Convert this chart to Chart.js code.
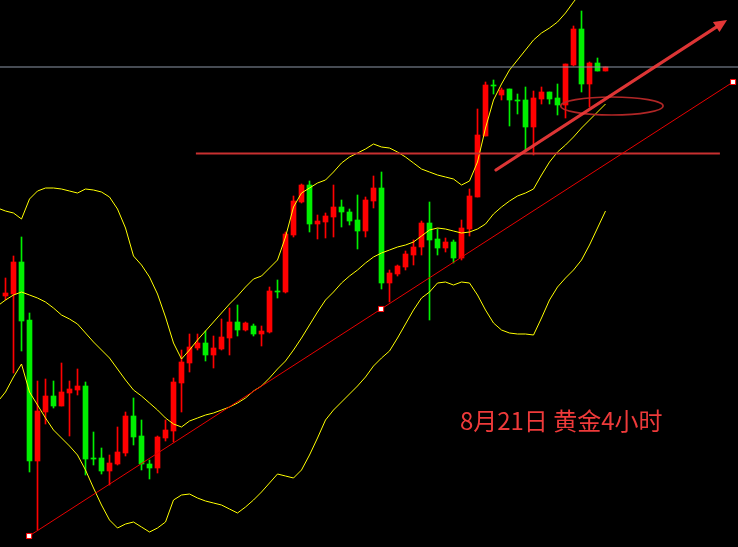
<!DOCTYPE html>
<html><head><meta charset="utf-8">
<script src="https://cdn.jsdelivr.net/npm/chart.js@4/dist/chart.umd.min.js"></script>
<style>html,body{margin:0;padding:0;background:#000;}#wrap{width:738px;height:547px;position:relative;background:#000;}</style>
</head><body><div id="wrap"><canvas id="c"></canvas></div>
<script>
// Candle index (4-hour bars)
const bars = [0,1,2,3,4,5,6,7,8,9,10,11,12,13,14,15,16,17,18,19,20,21,22,23,24,25,26,27,28,29,30,31,32,33,34,35,36,37,38,39,40,41,42,43,44,45,46,47,48,49,50,51,52,53,54,55,56,57,58,59,60,61,62,63,64,65,66,67,68,69,70,71,72,73,74,75];
const open  = [1500.8,1501.2,1507.6,1496.0,1467.8,1477.6,1480.8,1478.8,1481.4,1482.0,
  1482.8,1468.4,1468.4,1465.8,1467.2,1469.4,1476.8,1472.8,1467.2,1466.4,
  1472.4,1473.8,1483.4,1487.4,1490.4,1491.4,1489.0,1490.2,1492.4,1495.6,
  1494.0,1494.8,1493.2,1493.6,1501.8,1501.6,1513.0,1519.6,1523.0,1515.2,
  1515.6,1516.6,1518.6,1517.6,1516.0,1513.8,1519.8,1522.4,1503.4,1505.2,
  1506.6,1509.0,1510.6,1515.4,1512.2,1510.4,1511.6,1508.4,1514.2,1520.6,
  1532.8,1543.0,1541.0,1542.2,1540.0,1540.0,1534.6,1540.2,1541.6,1540.4,
  1539.0,1547.0,1554.2,1543.2,1547.4,1545.8];
const high  = [1504.4,1508.8,1512.6,1497.4,1483.8,1484.2,1483.8,1487.4,1483.8,1486.2,
  1483.6,1473.6,1470.4,1469.0,1474.6,1477.6,1480.4,1476.0,1468.0,1472.8,
  1476.0,1484.4,1490.0,1493.2,1493.2,1493.8,1492.8,1496.2,1498.4,1499.0,
  1495.6,1495.2,1494.8,1502.6,1504.0,1513.6,1520.8,1523.2,1523.8,1517.0,
  1517.4,1523.0,1520.0,1518.2,1521.0,1520.6,1524.8,1525.6,1506.0,1507.0,
  1509.8,1512.0,1515.8,1519.6,1514.2,1512.4,1512.0,1516.0,1522.2,1538.2,
  1543.6,1544.0,1542.4,1542.2,1541.2,1542.6,1541.8,1542.6,1541.6,1543.2,
  1547.2,1554.8,1557.8,1547.6,1548.4,1546.6];
const low   = [1500.0,1485.4,1489.8,1465.6,1454.0,1475.2,1478.4,1478.8,1472.8,1481.0,
  1465.0,1467.0,1465.2,1463.0,1467.0,1468.8,1471.0,1466.0,1464.2,1465.4,
  1471.8,1471.6,1477.6,1485.6,1490.0,1487.8,1486.4,1490.0,1489.0,1492.8,
  1493.8,1492.8,1490.8,1493.4,1500.4,1501.4,1512.6,1519.4,1513.6,1512.2,
  1512.4,1512.6,1514.6,1515.0,1510.2,1512.6,1518.4,1502.2,1499.6,1504.8,
  1506.0,1507.0,1509.0,1496.0,1509.0,1509.6,1507.4,1508.0,1512.8,1520.6,
  1532.8,1541.2,1540.0,1534.8,1537.2,1530.0,1529.0,1539.2,1539.2,1537.0,
  1536.4,1546.8,1541.6,1538.6,1545.8,1545.8];
const close = [1501.4,1507.6,1495.8,1467.8,1477.8,1480.8,1478.8,1481.6,1482.2,1482.8,
  1468.2,1468.2,1465.8,1467.4,1469.6,1476.8,1472.6,1467.2,1466.4,1472.6,
  1474.0,1483.6,1487.6,1490.6,1491.4,1489.0,1490.4,1492.6,1495.6,1494.0,
  1495.4,1493.2,1493.8,1501.8,1501.6,1513.2,1519.8,1523.0,1515.2,1515.8,
  1516.8,1518.6,1517.6,1515.8,1513.8,1520.0,1522.4,1503.4,1505.4,1506.8,
  1509.2,1510.6,1515.4,1512.0,1510.4,1511.6,1508.4,1514.4,1520.8,1533.0,
  1543.0,1542.8,1542.0,1540.0,1539.8,1534.6,1540.4,1541.6,1540.2,1539.0,
  1547.2,1554.2,1543.2,1547.4,1545.8,1546.6];

// Bollinger bands; first point is one bar before bar 0
const bandStart = -1;
const bollUpper = [1518.4,1517.8,1517.4,1516.2,1520.2,1521.8,1522.4,1522.4,1522.2,1521.8,
  1521.4,1522.2,1522.0,1521.6,1520.6,1518.2,1514.4,1508.8,1507.0,1504.6,
  1501.2,1496.6,1491.4,1488.2,1490.0,1492.0,1493.8,1495.6,1497.4,1499.2,
  1500.8,1502.6,1504.2,1504.8,1506.4,1508.0,1512.6,1518.6,1521.4,1522.4,
  1523.4,1524.0,1525.6,1527.4,1528.6,1529.4,1530.2,1531.2,1530.6,1530.4,
  1529.6,1528.6,1527.4,1526.2,1525.6,1525.0,1524.6,1524.2,1523.0,1523.8,
  1527.6,1534.4,1540.0,1543.2,1546.0,1548.0,1550.0,1552.0,1553.4,1554.4,
  1555.6,1557.4,1559.6,1561.6,1563.0,1563.8,1564.2];
const bollMid = [1498.8,1500.0,1501.0,1501.6,1501.0,1500.4,1499.6,1498.4,1497.0,1496.2,
  1495.2,1493.4,1491.6,1490.0,1488.4,1486.2,1484.0,1482.0,1480.8,1479.4,
  1478.0,1476.4,1475.2,1474.6,1475.8,1476.4,1477.0,1477.4,1478.0,1478.6,
  1479.4,1480.4,1481.8,1482.8,1484.4,1486.2,1487.8,1490.0,1492.4,1495.0,
  1497.6,1500.0,1501.6,1503.4,1504.8,1506.0,1507.4,1508.6,1509.4,1510.0,
  1510.6,1511.0,1511.6,1512.8,1514.0,1514.4,1514.2,1513.8,1513.4,1513.6,
  1514.2,1515.2,1517.2,1518.6,1519.8,1520.8,1521.4,1522.2,1525.0,1527.6,
  1529.6,1531.0,1532.6,1534.4,1536.0,1537.6,1539.2];
const bollLower = [1479.6,1481.6,1484.6,1487.2,1481.6,1479.0,1476.4,1474.0,1472.4,1470.8,
  1469.0,1466.0,1462.4,1459.0,1456.0,1454.4,1455.2,1455.6,1454.6,1453.6,
  1454.4,1455.6,1460.0,1461.0,1461.2,1460.4,1459.8,1459.4,1459.0,1458.2,
  1457.4,1458.6,1460.0,1461.6,1463.4,1465.2,1464.8,1464.4,1466.0,1469.0,
  1472.4,1476.0,1478.0,1479.6,1481.2,1482.8,1484.6,1486.8,1488.4,1489.8,
  1492.4,1495.2,1498.0,1500.4,1501.6,1503.4,1503.6,1503.0,1503.6,1503.4,
  1501.0,1498.0,1495.4,1494.0,1493.4,1493.2,1493.2,1493.0,1496.4,1500.0,
  1502.6,1504.4,1506.0,1508.0,1511.0,1514.4,1517.8];

// Annotations (bar index / price)
const refLevel = 1546.6;              // thin grey horizontal line
const resistLevel = 1529.3;           // red horizontal line
const resistSpan = [23.8, 89.3];
const trendX = [2.95, 46.95, 90.95];  // rising support line with anchor squares
const trendY = [1452.8, 1498.2, 1543.6];
const arrowFrom = [61.3, 1526.0];
const arrowTo = [90.2, 1556.0];
const ringCenter = [75.8, 1538.8];
const ringRadius = [6.4, 1.8];
const noteText = '8月21日 黄金4小时';
const notePos = [56.8, 1475.8];

const UP = '#ff0000', DOWN = '#00f000';
const candleColor = bars.map((b, i) => close[i] >= open[i] ? UP : DOWN);
const bandPts = arr => arr.map((v, i) => ({x: i + bandStart, y: v}));

const overlay = {
  id: 'overlay',
  afterDatasetsDraw(chart) {
    const {ctx, scales: {x, y}} = chart;
    ctx.save();
    // ellipse
    const cx = x.getPixelForValue(ringCenter[0]), cy = y.getPixelForValue(ringCenter[1]);
    const rx = Math.abs(x.getPixelForValue(ringCenter[0] + ringRadius[0]) - cx);
    const ry = Math.abs(y.getPixelForValue(ringCenter[1] + ringRadius[1]) - cy);
    ctx.beginPath();
    ctx.ellipse(cx, cy, rx, ry, 0, 0, Math.PI * 2);
    ctx.strokeStyle = 'rgba(185,40,40,0.95)';
    ctx.lineWidth = 1.6;
    ctx.stroke();
    // arrow
    const x1 = x.getPixelForValue(arrowFrom[0]), y1 = y.getPixelForValue(arrowFrom[1]);
    const x2 = x.getPixelForValue(arrowTo[0]), y2 = y.getPixelForValue(arrowTo[1]);
    const ang = Math.atan2(y2 - y1, x2 - x1);
    const headLen = 13, headW = 6;
    const bx = x2 - headLen * Math.cos(ang), by = y2 - headLen * Math.sin(ang);
    ctx.strokeStyle = 'rgba(240,58,58,0.92)';
    ctx.fillStyle = 'rgba(240,58,58,0.95)';
    ctx.lineWidth = 3.2;
    ctx.lineCap = 'round';
    ctx.beginPath(); ctx.moveTo(x1, y1); ctx.lineTo(bx, by); ctx.stroke();
    ctx.beginPath();
    ctx.moveTo(x2, y2);
    ctx.lineTo(bx + headW * Math.sin(ang), by - headW * Math.cos(ang));
    ctx.lineTo(bx - headW * Math.sin(ang), by + headW * Math.cos(ang));
    ctx.closePath(); ctx.fill();
    // note
    ctx.font = '24px "Noto Sans CJK SC", "Noto Sans", sans-serif';
    ctx.fillStyle = '#ee3a3a';
    ctx.textBaseline = 'middle';
    ctx.textAlign = 'left';
    ctx.fillText(noteText, x.getPixelForValue(notePos[0]), y.getPixelForValue(notePos[1]));
    ctx.restore();
  }
};

new Chart(document.getElementById('c'), {
  type: 'bar',
  data: {
    datasets: [
      { type: 'line', label: 'ref', data: [{x: -1, y: refLevel}, {x: 93, y: refLevel}],
        borderColor: '#8c96a6', borderWidth: 1, pointRadius: 0, order: -2 },
      { type: 'line', label: 'resist', data: [{x: resistSpan[0], y: resistLevel}, {x: resistSpan[1], y: resistLevel}],
        borderColor: 'rgba(200,48,48,1)', borderWidth: 2, pointRadius: 0, order: -2 },
      { type: 'line', label: 'trend', data: trendX.map((v, i) => ({x: v, y: trendY[i]})),
        borderColor: '#e80000', borderWidth: 1, pointStyle: 'rect', pointRadius: 3.6,
        pointBackgroundColor: '#ffffff', pointBorderColor: '#ff0000', pointBorderWidth: 1, order: -3 },
      { type: 'line', label: 'upper', data: bandPts(bollUpper), borderColor: '#ffff00', borderWidth: 1, pointRadius: 0, order: 0 },
      { type: 'line', label: 'mid', data: bandPts(bollMid), borderColor: '#ffff00', borderWidth: 1, pointRadius: 0, order: 0 },
      { type: 'line', label: 'lower', data: bandPts(bollLower), borderColor: '#ffff00', borderWidth: 1, pointRadius: 0, order: 0 },
      { type: 'bar', label: 'body', data: bars.map((b, i) => ({x: b, y: [open[i], close[i]]})),
        backgroundColor: candleColor, borderWidth: 0, barThickness: 5, minBarLength: 1, grouped: false, order: 1 },
      { type: 'bar', label: 'wick', data: bars.map((b, i) => ({x: b, y: [low[i], high[i]]})),
        backgroundColor: candleColor, borderWidth: 0, barThickness: 1, minBarLength: 1, grouped: false, order: 2 }
    ]
  },
  options: {
    responsive: true,
    maintainAspectRatio: false,
    animation: false,
    events: [],
    layout: { padding: 0, autoPadding: false },
    plugins: { legend: { display: false }, tooltip: { enabled: false }, title: { display: false } },
    scales: {
      x: { type: 'linear', min: -0.6875, max: 91.5625, offset: false, display: false },
      y: { type: 'linear', min: 1450.6, max: 1560, beginAtZero: false, display: false }
    }
  },
  plugins: [overlay]
});
</script>
</body></html>
